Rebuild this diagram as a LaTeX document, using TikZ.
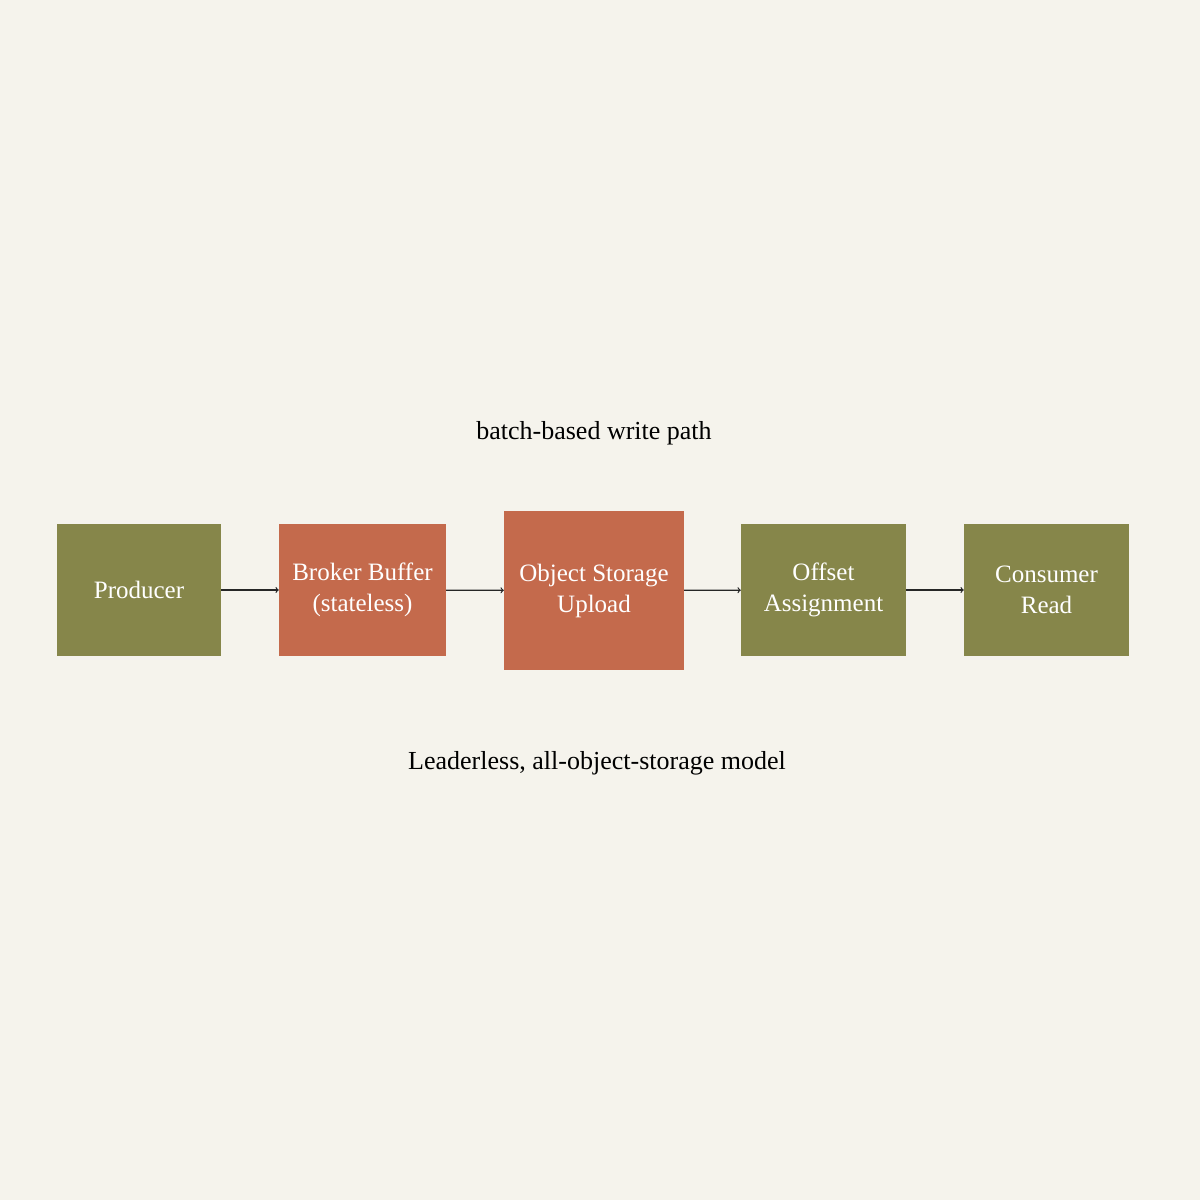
\documentclass[tikz,border=0pt]{standalone}
\usepackage{fontspec}
\setmainfont{Liberation Serif}
\definecolor{bg}{RGB}{245,243,236}
\definecolor{olive}{RGB}{134,134,74}
\definecolor{rust}{RGB}{196,106,76}
\begin{document}
\begin{tikzpicture}[x=1pt,y=-1pt,
 box/.style={minimum height=132pt,inner sep=0pt,text=white,align=center,font=\fontsize{25}{31}\selectfont},
 arr/.style={->,line width=1.2pt,draw=black!85}]
\fill[bg] (0,0) rectangle (1200,1200);
\useasboundingbox (0,0) rectangle (1200,1200);
\node[box,fill=olive,minimum width=164pt] (p) at (139,590) {Producer};
\node[box,fill=rust,minimum width=167pt] (b) at (362.5,590) {Broker Buffer\\(stateless)};
\node[box,fill=rust,minimum width=180pt,minimum height=159pt] (o) at (594,590.5) {Object Storage\\Upload};
\node[box,fill=olive,minimum width=165pt] (f) at (823.5,590) {Offset\\Assignment};
\node[box,fill=olive,minimum width=165pt] (c) at (1046.5,590) {Consumer\\Read};
\draw[arr] (p) -- (b);
\draw[arr] (b) -- (o);
\draw[arr] (o) -- (f);
\draw[arr] (f) -- (c);
\node[font=\fontsize{26}{30}\selectfont] (t) at (594,433) {batch-based write path};
\node[font=\fontsize{26}{30}\selectfont] (s) at (597,763) {Leaderless, all-object-storage model};
\end{tikzpicture}
\end{document}
